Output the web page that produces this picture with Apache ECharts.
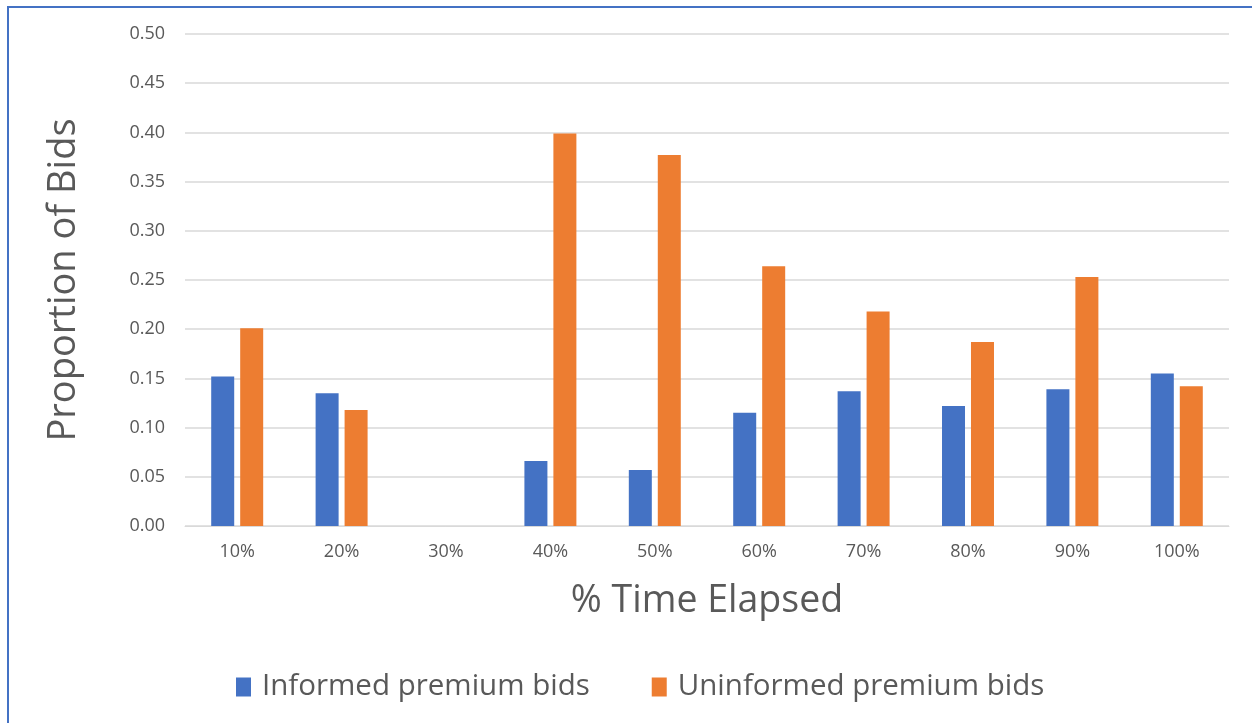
<!DOCTYPE html>
<html>
<head>
<meta charset="utf-8">
<script src="https://cdn.jsdelivr.net/npm/echarts@6/dist/echarts.min.js"></script>
<style>
  html, body { margin: 0; padding: 0; background: #fff; }
  #chart { width: 1252px; height: 723px; }
</style>
</head>
<body>
<div id="chart"></div>
<script>
// Share of bids placed in each tenth of the auction's running time
const timeElapsed = ['10%', '20%', '30%', '40%', '50%', '60%', '70%', '80%', '90%', '100%'];
const informedBids = [0.152, 0.135, 0, 0.066, 0.057, 0.115, 0.137, 0.122, 0.139, 0.155];
const uninformedBids = [0.201, 0.118, 0, 0.399, 0.377, 0.264, 0.218, 0.187, 0.253, 0.142];
const seriesNames = ['Informed premium bids', 'Uninformed premium bids'];

const textColor = '#595959';
const font = '"Open Sans", "Noto Sans", sans-serif';

const chart = echarts.init(document.getElementById('chart'), null, { renderer: 'canvas' });
chart.setOption({
  animation: false,
  backgroundColor: '#ffffff',
  textStyle: { fontFamily: font },
  graphic: [{
    type: 'polyline',
    shape: { points: [[8, 723], [8, 7], [1252, 7]] },
    style: { stroke: '#4472c4', lineWidth: 2, fill: null },
    z: 100
  }],
  grid: { left: 185, right: 23, top: 34, bottom: 197 },
  legend: {
    bottom: 16,
    left: 231,
    itemWidth: 15,
    itemHeight: 19,
    itemGap: 62,
    icon: 'rect',
    textStyle: { color: textColor, fontSize: 29.5, fontFamily: font, padding: [0, 0, 0, 6] },
    data: seriesNames
  },
  xAxis: {
    type: 'category',
    data: timeElapsed,
    name: '% Time Elapsed',
    nameLocation: 'middle',
    nameGap: 56,
    nameTextStyle: { color: textColor, fontSize: 37.5, fontFamily: font },
    axisLine: { lineStyle: { color: '#d9d9d9', width: 1 } },
    axisTick: { show: false },
    axisLabel: { color: textColor, fontSize: 18, margin: 17, fontFamily: font }
  },
  yAxis: {
    type: 'value',
    min: 0,
    max: 0.5,
    interval: 0.05,
    name: 'Proportion of Bids',
    nameLocation: 'middle',
    nameGap: 102,
    nameTextStyle: { color: textColor, fontSize: 38, fontFamily: font },
    axisLine: { show: false },
    axisTick: { show: false },
    splitLine: { lineStyle: { color: '#d9d9d9', width: 1.5 } },
    axisLabel: {
      color: textColor,
      fontSize: 18,
      margin: 20,
      fontFamily: font,
      formatter: v => v.toFixed(2)
    }
  },
  series: [
    {
      name: seriesNames[0],
      type: 'bar',
      data: informedBids,
      barWidth: 23,
      barGap: '26%',
      itemStyle: { color: '#4472c4' }
    },
    {
      name: seriesNames[1],
      type: 'bar',
      data: uninformedBids,
      barWidth: 23,
      itemStyle: { color: '#ed7d31' }
    }
  ]
});
</script>
</body>
</html>
